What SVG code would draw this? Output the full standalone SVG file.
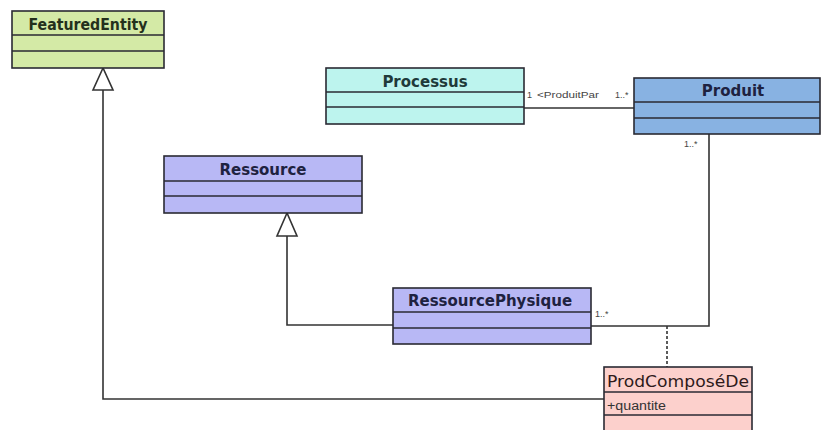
<svg xmlns="http://www.w3.org/2000/svg" width="821" height="430" viewBox="0 0 821 430">
<style>
.box{stroke:#2a2a33;stroke-width:1.6}
.div{stroke:#2a2a33;stroke-width:1.6;fill:none}
.title{font-family:"DejaVu Sans",sans-serif;font-weight:bold;font-size:15px;text-anchor:middle;fill:#1e2240}
.conn{stroke:#333;stroke-width:1.6;fill:none}
.lbl{font-family:"Liberation Sans",Arial,sans-serif;font-size:9px;fill:#444}
</style>
<rect width="821" height="430" fill="#ffffff"/>
<g id="connectors">
<path class="conn" d="M103,90 V399 H604"/>
<polygon points="103,68 93,90 113,90" fill="#fff" stroke="#333" stroke-width="1.6"/>
<path class="conn" d="M287,236 V325 H393"/>
<polygon points="287,213 277,236 297,236" fill="#fff" stroke="#333" stroke-width="1.6"/>
<path class="conn" d="M524,108 H634"/>
<text class="lbl" x="527" y="98">1</text>
<text class="lbl" x="537" y="98" textLength="62" lengthAdjust="spacingAndGlyphs">&lt;ProduitPar</text>
<text class="lbl" x="615" y="98">1..*</text>
<path class="conn" d="M709,134 V326 H591"/>
<text class="lbl" x="684" y="147">1..*</text>
<text class="lbl" x="595" y="317">1..*</text>
<path class="conn" d="M667,326 V367" stroke-dasharray="3,2"/>
</g>
<g id="FeaturedEntity">
<rect class="box" x="12" y="11" width="152" height="57" fill="#d4eaa6"/>
<path class="div" d="M12,35 H164 M12,51 H164"/>
<text class="title" x="88" y="30" style="fill:#24301c" textLength="119" lengthAdjust="spacingAndGlyphs">FeaturedEntity</text>
</g>
<g id="Processus">
<rect class="box" x="326" y="68" width="198" height="56" fill="#bdf4ee"/>
<path class="div" d="M326,92 H524 M326,107 H524"/>
<text class="title" x="425" y="87" style="fill:#1f3a3a">Processus</text>
</g>
<g id="Produit">
<rect class="box" x="634" y="78" width="186" height="56" fill="#88b2e2"/>
<path class="div" d="M634,102 H820 M634,118 H820"/>
<text class="title" x="733" y="96">Produit</text>
</g>
<g id="Ressource">
<rect class="box" x="164" y="156" width="198" height="57" fill="#b8b8f5"/>
<path class="div" d="M164,181 H362 M164,196 H362"/>
<text class="title" x="263" y="175">Ressource</text>
</g>
<g id="RessourcePhysique">
<rect class="box" x="393" y="288" width="198" height="56" fill="#b8b8f5"/>
<path class="div" d="M393,312 H591 M393,328 H591"/>
<text class="title" x="490" y="306">RessourcePhysique</text>
</g>
<g id="ProdComposeDe">
<rect class="box" x="604" y="367" width="148" height="80" fill="#fcd0cc"/>
<path class="div" d="M604,392 H752 M604,415 H752"/>
<text x="607" y="387" font-family="DejaVu Sans,sans-serif" font-size="16.5" fill="#2e1a1a" textLength="142" lengthAdjust="spacingAndGlyphs">ProdComposéDe</text>
<text x="607" y="410" font-family="Liberation Sans,Arial,sans-serif" font-size="12" fill="#333" textLength="59" lengthAdjust="spacingAndGlyphs">+quantite</text>
</g>
</svg>
